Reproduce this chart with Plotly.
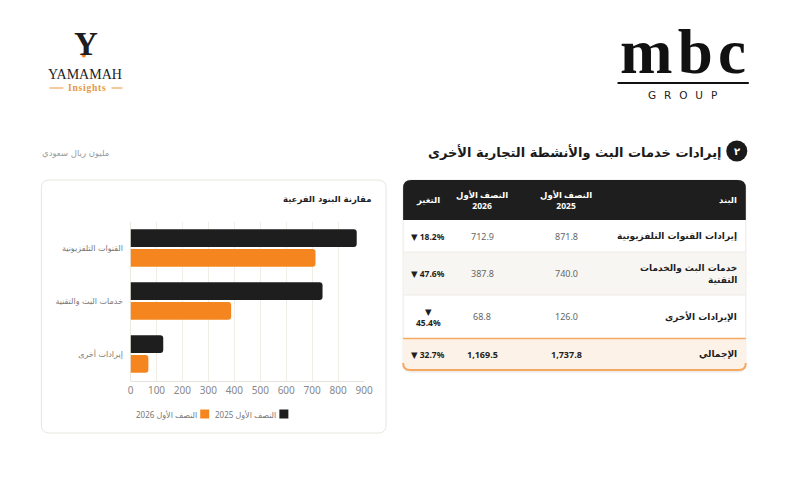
import plotly.graph_objects as go

W, H = 800, 500

# ---------------- data ----------------
categories = ["القنوات التلفزيونية", "خدمات البث والتقنية", "إيرادات أخرى"]
series_names = ["النصف الأول 2025", "النصف الأول 2026"]
legend_labels = ["النصف الأول 2025", "2026 النصف الأول"]
values_2025 = [871.8, 740.0, 126.0]
values_2026 = [712.9, 387.8, 68.8]
x_ticks = [0, 100, 200, 300, 400, 500, 600, 700, 800, 900]

table_header = ["البند", "النصف الأول<br>2025", "النصف الأول<br>2026", "التغير"]
table_items = ["إيرادات القنوات التلفزيونية", "خدمات البث والخدمات<br>التقنية",
               "الإيرادات الأخرى", "الإجمالي"]
table_2025 = ["871.8", "740.0", "126.0", "1,737.8"]
table_2026 = ["712.9", "387.8", "68.8", "1,169.5"]
table_change = ["▼ 18.2%", "▼ 47.6%", "▼<br>45.4%", "▼ 32.7%"]

section_title = "إيرادات خدمات البث والأنشطة التجارية الأخرى"
section_number = "٢"
unit_label = "مليون ريال سعودي"
chart_title = "مقارنة البنود الفرعية"

BLACK = "#1e1e1e"
ORANGE = "#f5861f"
AR = "DejaVu Sans, sans-serif"
NUM = "Noto Sans, DejaVu Sans, sans-serif"

# horizontal correction for the capture
SX, OX = 0.983, 3.7


def X(x):
    return ((x - OX) / SX) / W


def Y(y):
    return 1 - y / H


def rrect(x0, y0, x1, y1, r, tl=True, tr=True, br=True, bl=True):
    p = []
    p.append(f"M {X(x0 + (r if tl else 0))},{Y(y0)}")
    p.append(f"L {X(x1 - (r if tr else 0))},{Y(y0)}")
    if tr:
        p.append(f"Q {X(x1)},{Y(y0)} {X(x1)},{Y(y0 + r)}")
    p.append(f"L {X(x1)},{Y(y1 - (r if br else 0))}")
    if br:
        p.append(f"Q {X(x1)},{Y(y1)} {X(x1 - r)},{Y(y1)}")
    p.append(f"L {X(x0 + (r if bl else 0))},{Y(y1)}")
    if bl:
        p.append(f"Q {X(x0)},{Y(y1)} {X(x0)},{Y(y1 - r)}")
    p.append(f"L {X(x0)},{Y(y0 + (r if tl else 0))}")
    if tl:
        p.append(f"Q {X(x0)},{Y(y0)} {X(x0 + r)},{Y(y0)}")
    p.append("Z")
    return " ".join(p)


shapes = []
annotations = []


def shape_path(path, fill, line_color=None, line_width=0, layer="below"):
    shapes.append(dict(type="path", path=path, xref="paper", yref="paper",
                       fillcolor=fill, layer=layer,
                       line=dict(color=line_color or "rgba(0,0,0,0)", width=line_width)))


def hline(x0, x1, y, color, width=1, layer="below"):
    shapes.append(dict(type="line", xref="paper", yref="paper", x0=X(x0), x1=X(x1),
                       y0=Y(y), y1=Y(y), layer=layer, line=dict(color=color, width=width)))


def ann(x, y, text, size=10, color="#222", weight=400, xanchor="center",
        family=AR, align="center", yanchor="middle"):
    annotations.append(dict(x=X(x), y=Y(y), xref="paper", yref="paper", text=text,
                            showarrow=False, xanchor=xanchor, yanchor=yanchor, align=align,
                            borderpad=0,
                            font=dict(size=size, color=color, family=family, weight=weight)))


# ---------------- logos ----------------
ann(87, 44, "Y", size=33, color="#1e1e1e", weight=700, family="Liberation Serif, serif")
shapes.append(dict(type="circle", xref="paper", yref="paper", x0=X(82.3), x1=X(86.3),
                   y0=Y(53.5), y1=Y(57.5), fillcolor=ORANGE, line=dict(width=0)))
ann(86, 74, "YAMAMAH", size=14, color="#222", family="Liberation Serif, serif")
ann(88, 88, "I\u200an\u200as\u200ai\u200ag\u200ah\u200at\u200as", size=9.5, color="#e8963a",
    weight=700, family="Liberation Serif, serif")
hline(50, 64, 88, "#e8963a", 1)
hline(112, 123, 88, "#e8963a", 1)

ann(682, 88, "m\u200ab\u200ac", size=63, color="#111", weight=700,
    family="Liberation Serif, serif", yanchor="bottom")
hline(617, 748, 83, "#111", 2)
ann(682, 88, "G\u2002\u2005R\u2002\u2005O\u2002\u2005U\u2002\u2005P", size=10.5, color="#222",
    family="DejaVu Sans, sans-serif", yanchor="top")

# ---------------- section heading ----------------
ann(722, 152, section_title, size=13, color="#1a1a1a", weight=700, xanchor="right")
shapes.append(dict(type="circle", xref="paper", yref="paper", x0=X(725.5), x1=X(746.5),
                   y0=Y(140.5), y1=Y(161.5), fillcolor="#1a1a1a", line=dict(width=0)))
ann(736, 151, section_number, size=10, color="white", weight=700)
ann(42, 153, unit_label, size=8.5, color="#9a9a9a", xanchor="left")

# ---------------- chart card ----------------
shape_path(rrect(42, 180, 386, 433, 8), "white", "#e9e6df", 1)
ann(372, 199, chart_title, size=8.5, color="#222", weight=700, xanchor="right")

legend_colors = [BLACK, ORANGE]
legend_pos = [(284, 277), (205, 198)]
for lab, col, (mx, tx) in zip(legend_labels, legend_colors, legend_pos):
    shapes.append(dict(type="rect", xref="paper", yref="paper", x0=X(mx - 4.5), x1=X(mx + 4.5),
                       y0=Y(409.5), y1=Y(418.5), fillcolor=col, line=dict(width=0)))
    ann(tx, 414, lab, size=8, color="#777", xanchor="right", family=NUM)

# ---------------- table ----------------
TX0, TX1 = 403, 745
row_bounds = [220, 252, 295, 338, 370]
shape_path(rrect(TX0, 182, TX1, 373, 8), "rgba(0,0,0,0.05)")
shape_path(rrect(TX0, 180, TX1, 371, 8), "white", "#ebe8e1", 1)
shape_path(rrect(TX0, 180, TX1, 220, 8, br=False, bl=False), "#1e1e1e")
shape_path(rrect(TX0 + 0.5, 252, TX1 - 0.5, 295, 0), "#f8f6f2")
hline(TX0, TX1, 252, "#eeebe4", 1)
hline(TX0, TX1, 295, "#eeebe4", 1)
shape_path(rrect(TX0, 338, TX1, 370, 7, tl=False, tr=False), "#fdf2e7")
hline(TX0, TX1, 338.5, "#f5a862", 1.5)
shapes.append(dict(type="path", xref="paper", yref="paper", layer="below",
                   path=(f"M {X(TX0)},{Y(363)} Q {X(TX0)},{Y(370)} {X(TX0 + 7)},{Y(370)} "
                         f"L {X(TX1 - 7)},{Y(370)} Q {X(TX1)},{Y(370)} {X(TX1)},{Y(363)}"),
                   line=dict(color="#f5a862", width=2)))

col_x = [737, 566, 482, 428]
ann(col_x[0], 200, table_header[0], size=8.5, color="white", weight=700, xanchor="right")
for cx, t in zip(col_x[1:], table_header[1:]):
    ann(cx, 200, t, size=8.5, color="white", weight=700, family=NUM)

for i in range(len(table_items)):
    cy = (row_bounds[i] + row_bounds[i + 1]) / 2
    total = i == len(table_items) - 1
    ann(col_x[0], cy, table_items[i], size=9, color="#1e1e1e", weight=700,
        xanchor="right", align="right")
    ann(col_x[1], cy, table_2025[i], size=9, color="#1e1e1e" if total else "#666",
        weight=700 if total else 400, family=NUM)
    ann(col_x[2], cy, table_2026[i], size=9, color="#1e1e1e" if total else "#666",
        weight=700 if total else 400, family=NUM)
    ann(col_x[3], cy, table_change[i], size=8.5, color="#1e1e1e", weight=700, family=NUM)

# ---------------- bars ----------------
fig = go.Figure()
fig.add_trace(go.Bar(y=categories, x=values_2025, orientation="h", name=series_names[0],
                     marker=dict(color=BLACK, cornerradius=3, line=dict(width=0)),
                     hoverinfo="skip"))
fig.add_trace(go.Bar(y=categories, x=values_2026, orientation="h", name=series_names[1],
                     marker=dict(color=ORANGE, cornerradius=3, line=dict(width=0)),
                     hoverinfo="skip"))

fig.update_layout(
    width=W, height=H, margin=dict(l=0, r=0, t=0, b=0),
    paper_bgcolor="white", plot_bgcolor="white",
    showlegend=False, barmode="group", bargap=0.26, bargroupgap=0.1,
    xaxis=dict(domain=[X(131), X(364)], range=[0, 900], tickvals=x_ticks,
               showgrid=True, gridcolor="#f0ede6", gridwidth=1,
               zeroline=True, zerolinecolor="#ebe8e1", zerolinewidth=1,
               showline=True, linecolor="#e6e3dc", linewidth=1,
               ticks="", tickfont=dict(size=10, color="#888", family=NUM),
               fixedrange=True),
    yaxis=dict(domain=[Y(380.5), Y(221.5)], autorange="reversed",
               ticks="outside", ticklen=5, tickcolor="rgba(0,0,0,0)",
               showgrid=False, tickfont=dict(size=8, color="#777", family=AR),
               fixedrange=True),
    shapes=shapes, annotations=annotations,
)

fig.write_html("out.html", config={"displayModeBar": False},
               post_script="document.body.style.margin='0';document.body.style.overflow='hidden';")
